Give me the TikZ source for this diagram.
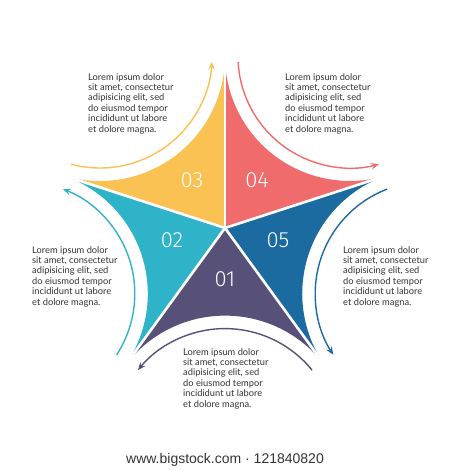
\documentclass[tikz,border=0pt]{standalone}
\usepackage{fontspec}
\setmainfont{Lato}
\newfontfamily\footfont{Liberation Sans}
\newfontfamily\thinfont{Fira Sans}[UprightFont={* Light}]
\usetikzlibrary{calc,arrows.meta}
\definecolor{cyel}{HTML}{F9C253}
\definecolor{cred}{HTML}{F06B6B}
\definecolor{cblu}{HTML}{1B6AA0}
\definecolor{cpur}{HTML}{575079}
\definecolor{ccya}{HTML}{2FB3C8}
\definecolor{ctxt}{HTML}{333333}
\begin{document}
\begin{tikzpicture}[x=1pt,y=1pt,
  sepline/.style={white,line width=2.6pt},
  arrowline/.style={line width=1.4pt,-{Stealth[length=8pt,width=6.5pt,inset=3pt]}},
  infotext/.style={anchor=north west,inner sep=0pt,align=left,text=ctxt,
    font=\fontsize{9.3}{10.4}\selectfont},
  numtext/.style={text=white,inner sep=0pt,font=\thinfont\fontsize{22}{22}\selectfont}]
\useasboundingbox (0,0) rectangle (450,470);
\coordinate (O) at (225,242);
% sectors and arrows
\foreach \b/\col/\nm in {270/cpur/one,342/cblu/five,54/cred/four,126/cyel/three,198/ccya/two}{
  \fill[\col] (O) -- ($(O)+(\b-36:172)$) coordinate (tip-\nm)
     arc[start angle=\b+234, end angle=\b+126, radius=125] -- cycle;
  \coordinate (c-\nm) at ($(O)+(\b:212.6)$);
  \draw[arrowline,\col] ($(c-\nm)+(\b+129:112)$) coordinate (as-\nm)
     arc[start angle=\b+129, end angle=\b+231, radius=112];
}
% separators
\foreach \nm in {one,two,three,four,five}{
  \draw[sepline] (O) -- (tip-\nm);
}
% numbers
\node[numtext] (n3) at (192,290) {03};
\node[numtext] (n4) at (257,290) {04};
\node[numtext] (n2) at (172,230) {02};
\node[numtext] (n5) at (278,230) {05};
\node[numtext] (n1) at (225,191) {01};
% texts
\node[infotext] (t3) at (88,397) {Lorem ipsum dolor\\sit amet, consectetur\\adipisicing elit, sed\\do eiusmod tempor\\incididunt ut labore\\et dolore magna.};
\node[infotext] (t4) at (285,397) {Lorem ipsum dolor\\sit amet, consectetur\\adipisicing elit, sed\\do eiusmod tempor\\incididunt ut labore\\et dolore magna.};
\node[infotext] (t2) at (32,224) {Lorem ipsum dolor\\sit amet, consectetur\\adipisicing elit, sed\\do eiusmod tempor\\incididunt ut labore\\et dolore magna.};
\node[infotext] (t5) at (343,224) {Lorem ipsum dolor\\sit amet, consectetur\\adipisicing elit, sed\\do eiusmod tempor\\incididunt ut labore\\et dolore magna.};
\node[infotext] (t1) at (183,122) {Lorem ipsum dolor\\sit amet, consectetur\\adipisicing elit, sed\\do eiusmod tempor\\incididunt ut labore\\et dolore magna.};
\node[text=ctxt,inner sep=0pt,font=\footfont\fontsize{14}{14}\selectfont] (foot) at (225,10) {www.bigstock.com · 121840820};
\end{tikzpicture}
\end{document}
